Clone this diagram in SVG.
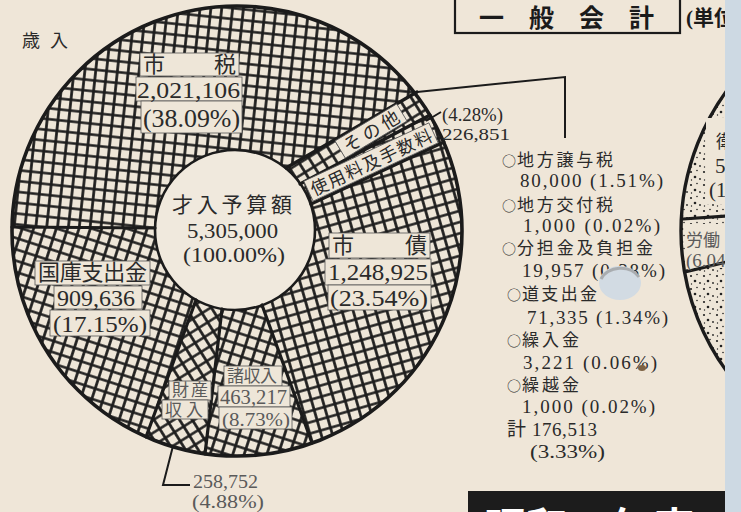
<svg xmlns="http://www.w3.org/2000/svg" width="741" height="512" viewBox="0 0 741 512">
<defs>
<style>
.jp{font-family:"Liberation Serif","Noto Sans CJK JP","Noto Sans CJK SC",sans-serif;fill:#2a2a2a}
.num{font-family:"Liberation Serif","Noto Sans CJK JP",serif;fill:#2a2a2a}
.mk{font-family:"Noto Sans CJK JP","Noto Sans CJK SC",sans-serif;font-size:14px}
.gray{fill:#5a5a5a}
.box{fill:#eee6d8;stroke:#555;stroke-width:0.8}
.bound{stroke:#1b1b1b;stroke-width:3.2;fill:none;stroke-linecap:round}
.lead{stroke:#1b1b1b;stroke-width:2;fill:none}
</style>
<pattern id="hA" width="10.8" height="10.8" patternUnits="userSpaceOnUse" patternTransform="rotate(6)">
<rect width="10.8" height="10.8" fill="#eee6d8"/><path d="M0 5.4H10.8M5.4 0V10.8" stroke="#1c1c1c" stroke-width="2.7"/></pattern>
<pattern id="hB" width="10.8" height="10.8" patternUnits="userSpaceOnUse" patternTransform="rotate(-16)">
<rect width="10.8" height="10.8" fill="#eee6d8"/><path d="M0 5.4H10.8M5.4 0V10.8" stroke="#1c1c1c" stroke-width="2.7"/></pattern>
<pattern id="hC" width="10.8" height="10.8" patternUnits="userSpaceOnUse" patternTransform="rotate(18)">
<rect width="10.8" height="10.8" fill="#eee6d8"/><path d="M0 5.4H10.8M5.4 0V10.8" stroke="#1c1c1c" stroke-width="2.7"/></pattern>
<pattern id="hD" width="10.8" height="10.8" patternUnits="userSpaceOnUse" patternTransform="rotate(-32)">
<rect width="10.8" height="10.8" fill="#eee6d8"/><path d="M0 5.4H10.8M5.4 0V10.8" stroke="#1c1c1c" stroke-width="2.7"/></pattern>
<pattern id="dots" width="13" height="13" patternUnits="userSpaceOnUse">
<rect width="13" height="13" fill="#eee6d8"/>
<g fill="#222"><circle cx="2" cy="3" r="1.1"/><circle cx="8" cy="1.5" r="0.8"/><circle cx="6" cy="8" r="1.3"/><circle cx="11" cy="10" r="0.9"/><circle cx="2.5" cy="11" r="0.7"/></g>
</pattern>
<clipPath id="ring"><path clip-rule="evenodd" d="M12,231a225,225 0 1,0 450,0a225,225 0 1,0 -450,0ZM155,230a80,80 0 1,0 160,0a80,80 0 1,0 -160,0Z"/></clipPath>
<clipPath id="paper"><rect x="0" y="0" width="725" height="512"/></clipPath>
</defs>

<rect x="0" y="0" width="741" height="512" fill="#efe6d8"/>
<rect x="725" y="0" width="16" height="512" fill="#cdd9e3"/>

<!-- ring of the pie -->
<g id="ring-segments" clip-path="url(#ring)">
<path id="seg-shizei" fill="url(#hA)" d="M155,228L-5,227L-5,-20L434,-20L434,82L286,168Z"/>
<path id="seg-sonota" fill="url(#hD)" d="M286,168L434,82L448,106L300,184Z"/>
<path id="seg-shiyoryo" fill="url(#hB)" d="M300,184L448,106L462,133L311,204Z"/>
<path id="seg-shisai" fill="url(#hB)" d="M311,204L462,133L480,133L480,480L319,462L262,305Z"/>
<path id="seg-shoshunyu" fill="url(#hC)" d="M262,305L319,462L203,474L222,309Z"/>
<path id="seg-zaisan" fill="url(#hD)" d="M222,309L203,474L139,456L196,300Z"/>
<path id="seg-kokko" fill="url(#hC)" d="M196,300L139,456L-5,470L-5,227L155,228Z"/>
</g>
<g id="ring-outline">
<circle cx="237" cy="231" r="225" fill="none" stroke="#1b1b1b" stroke-width="3.6"/>
<circle cx="235" cy="230" r="80" fill="#f0e9dd" stroke="#1b1b1b" stroke-width="2.6"/>
<line class="bound" x1="155" y1="228" x2="12" y2="227"/>
<line class="bound" x1="286" y1="168" x2="417" y2="92"/>
<line class="bound" x1="300" y1="184" x2="430" y2="115"/>
<line class="bound" x1="311" y1="204" x2="444" y2="142"/>
<line class="bound" x1="262" y1="305" x2="312" y2="443"/>
<line class="bound" x1="222" y1="309" x2="205" y2="454"/>
<line class="bound" x1="196" y1="300" x2="146" y2="437"/>
</g>

<g id="n-sainyu">
<text class="jp" x="22" y="47" font-size="18">歳</text>
<text class="jp" x="50" y="47" font-size="18">入</text>
</g>

<g id="n-center">
<text class="jp" x="172" y="212" font-size="21" textLength="120" lengthAdjust="spacing">才入予算額</text>
<text class="num" x="187" y="238" font-size="22" textLength="91" lengthAdjust="spacingAndGlyphs">5,305,000</text>
<text class="num" x="183" y="261.5" font-size="21" textLength="102" lengthAdjust="spacingAndGlyphs">(100.00%)</text>
</g>

<g id="n-shizei">
<rect class="box" x="140" y="53" width="99" height="23"/>
<rect class="box" x="136" y="77" width="106" height="24"/>
<rect class="box" x="141" y="101" width="101" height="32"/>
<text class="jp" x="143" y="72" font-size="22">市</text>
<text class="jp" x="214" y="72" font-size="22">税</text>
<text class="num" x="137" y="97.5" font-size="24" textLength="103" lengthAdjust="spacingAndGlyphs">2,021,106</text>
<text class="num" x="143" y="127" font-size="25" textLength="97" lengthAdjust="spacingAndGlyphs">(38.09%)</text>
</g>

<g id="n-shisai">
<rect class="box" x="329" y="233" width="101" height="25"/>
<rect class="box" x="325" y="259" width="106" height="26"/>
<rect class="box" x="328" y="285" width="103" height="25"/>
<text class="jp" x="332" y="253" font-size="22">市</text>
<text class="jp" x="405" y="253" font-size="22">債</text>
<text class="num" x="328" y="280" font-size="24" textLength="100" lengthAdjust="spacingAndGlyphs">1,248,925</text>
<text class="num" x="330" y="306" font-size="23" textLength="98" lengthAdjust="spacingAndGlyphs">(23.54%)</text>
</g>

<g id="n-kokko">
<rect class="box" x="35" y="261" width="115" height="24"/>
<rect class="box" x="54" y="286" width="88" height="23"/>
<rect class="box" x="50" y="310" width="100" height="26"/>
<text class="jp" x="38" y="280" font-size="22" textLength="109" lengthAdjust="spacing">国庫支出金</text>
<text class="num" x="57" y="305.5" font-size="23" textLength="78" lengthAdjust="spacingAndGlyphs">909,636</text>
<text class="num" x="53" y="331.5" font-size="23" textLength="94" lengthAdjust="spacingAndGlyphs">(17.15%)</text>
</g>

<g id="n-shoshunyu">
<rect class="box" x="224" y="366" width="58" height="20"/>
<rect class="box" x="218" y="386" width="72" height="21"/>
<rect class="box" x="219" y="407" width="73" height="22"/>
<text class="jp gray" x="227" y="382" font-size="17" textLength="50" lengthAdjust="spacing">諸収入</text>
<text class="num gray" x="220" y="404" font-size="20" textLength="67" lengthAdjust="spacingAndGlyphs">463,217</text>
<text class="num gray" x="222" y="425.5" font-size="19" textLength="68" lengthAdjust="spacingAndGlyphs">(8.73%)</text>
</g>

<g id="n-zaisan">
<rect class="box" x="169" y="381" width="42" height="19"/>
<rect class="box" x="162" y="400" width="46" height="19"/>
<text class="jp gray" x="172" y="396" font-size="17" textLength="36" lengthAdjust="spacing">財産</text>
<text class="jp gray" x="165" y="416" font-size="17" textLength="38" lengthAdjust="spacing">収入</text>
<text class="num gray" x="193" y="488" font-size="18" textLength="65" lengthAdjust="spacingAndGlyphs">258,752</text>
<text class="num gray" x="192" y="508" font-size="18" textLength="72" lengthAdjust="spacingAndGlyphs">(4.88%)</text>
</g>

<g id="n-sonota">
<g transform="translate(371,131) rotate(-31)">
<rect class="box" x="-36" y="-10" width="72" height="20"/>
<text class="jp" x="-31" y="7" font-size="18" textLength="62" lengthAdjust="spacing">その他</text>
</g>
</g>

<g id="n-shiyoryo">
<g transform="translate(371,162) rotate(-25)">
<rect class="box" x="-69" y="-11" width="138" height="22"/>
<text class="jp" x="-66" y="7" font-size="17.5" textLength="132" lengthAdjust="spacing">使用料及手数料</text>
</g>
<text class="num" x="442" y="121" font-size="18" textLength="61" lengthAdjust="spacingAndGlyphs">(4.28%)</text>
<text class="num" x="442" y="140" font-size="17" textLength="68" lengthAdjust="spacingAndGlyphs">226,851</text>
</g>

<g id="n-list">
<text class="jp" x="502" y="166" font-size="17"><tspan class="mk">○</tspan><tspan x="517" textLength="96" lengthAdjust="spacing">地方譲与税</tspan></text>
<text class="num" x="520" y="187" font-size="19" textLength="143" lengthAdjust="spacing">80,000 (1.51%)</text>
<text class="jp" x="502" y="211" font-size="17"><tspan class="mk">○</tspan><tspan x="517" textLength="96" lengthAdjust="spacing">地方交付税</tspan></text>
<text class="num" x="523" y="232" font-size="19" textLength="137" lengthAdjust="spacing">1,000 (0.02%)</text>
<text class="jp" x="502" y="254" font-size="17"><tspan class="mk">○</tspan><tspan x="517" textLength="136" lengthAdjust="spacing">分担金及負担金</tspan></text>
<text class="num" x="522" y="277" font-size="19" textLength="143" lengthAdjust="spacing">19,957 (0.38%)</text>
<text class="jp" x="507" y="300" font-size="17"><tspan class="mk">○</tspan><tspan x="522" textLength="75" lengthAdjust="spacing">道支出金</tspan></text>
<text class="num" x="527" y="324" font-size="19" textLength="141" lengthAdjust="spacing">71,335 (1.34%)</text>
<text class="jp" x="507" y="346" font-size="17"><tspan class="mk">○</tspan><tspan x="522" textLength="57" lengthAdjust="spacing">繰入金</tspan></text>
<text class="num" x="523" y="369" font-size="19" textLength="134" lengthAdjust="spacing">3,221 (0.06%)</text>
<text class="jp" x="507" y="391" font-size="17"><tspan class="mk">○</tspan><tspan x="522" textLength="57" lengthAdjust="spacing">繰越金</tspan></text>
<text class="num" x="522" y="413" font-size="19" textLength="133" lengthAdjust="spacing">1,000 (0.02%)</text>
<text class="num" x="507" y="436" font-size="19" textLength="90" lengthAdjust="spacing">計 176,513</text>
<text class="num" x="530" y="458" font-size="19" textLength="75" lengthAdjust="spacingAndGlyphs">(3.33%)</text>
</g>

<g id="connectors">
<polyline class="lead" points="417,92 565,77 565,138"/>
<line class="lead" x1="426" y1="121" x2="441" y2="112" stroke-width="1.6"/>
<polyline class="lead" points="173,446 163,485 190,485" stroke-width="1.8"/>
</g>

<g id="n-title">
<rect x="455" y="-3" width="225" height="36" fill="none" stroke="#1b1b1b" stroke-width="2.2"/>
<text class="jp" font-size="25" font-weight="700" y="27" style="fill:#1b1b1b"><tspan x="479">一</tspan><tspan x="529">般</tspan><tspan x="579">会</tspan><tspan x="629">計</tspan></text>
</g>

<g id="n-right" clip-path="url(#paper)">
<text class="jp" x="686" y="25" font-size="21" font-weight="700" style="fill:#1b1b1b">(単位</text>
<circle cx="919" cy="231" r="238" fill="url(#dots)" stroke="#1b1b1b" stroke-width="3.4"/>
<rect x="706" y="118" width="20" height="86" fill="#eee6d8"/>
<rect x="686" y="224" width="40" height="44" fill="#eee6d8"/>
<line class="bound" x1="683" y1="219" x2="727" y2="216" stroke-width="2.6"/>
<line class="bound" x1="685" y1="272" x2="727" y2="262" stroke-width="2.6"/>
<text class="jp" x="716" y="148" font-size="18">衛</text>
<text class="num" x="715" y="173" font-size="21">5</text>
<text class="num" x="709" y="197" font-size="21">(1</text>
<text class="jp gray" x="686" y="246" font-size="17">労働</text>
<text class="num gray" x="686" y="266.5" font-size="19">(6.04</text>
</g>

<g id="n-bottom-title" clip-path="url(#paper)">
<rect x="468" y="491" width="260" height="30" fill="#1c1c1c"/>
<text class="jp" x="484" y="543" font-size="42" font-weight="700" style="fill:#ffffff">昭和40年度(</text>
</g>

<g id="hole">
<ellipse cx="620" cy="283" rx="21" ry="17" fill="#d2dbe3"/>
<path d="M601,279 A21,17 0 0,1 639,277" fill="none" stroke="#8d8d8d" stroke-width="3" opacity="0.6"/>
<ellipse cx="642" cy="368" rx="4" ry="3" fill="#7d6244"/>
</g>
</svg>
